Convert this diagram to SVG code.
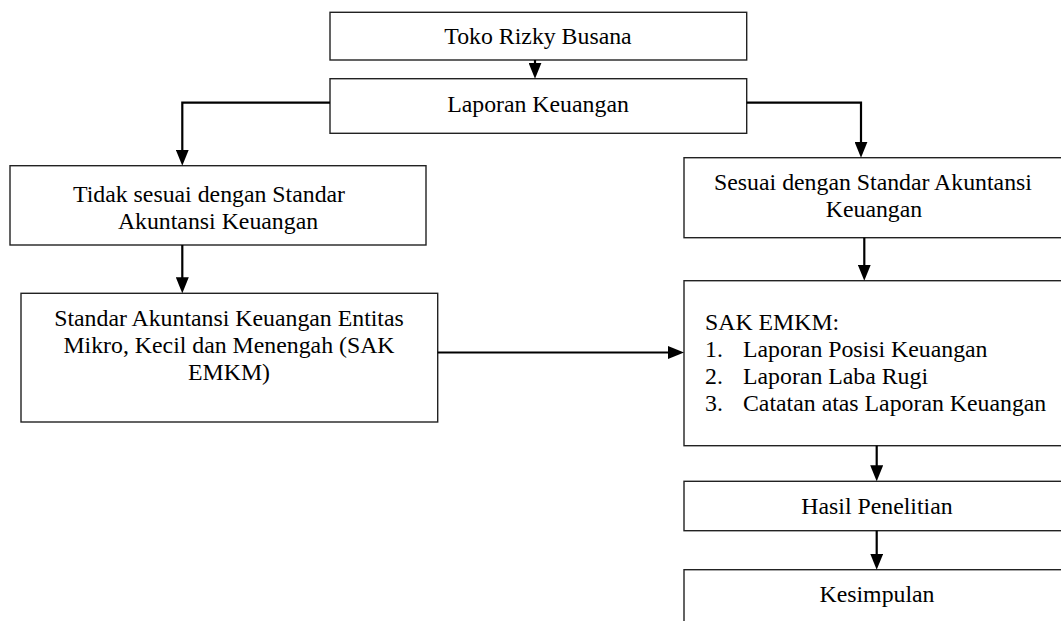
<svg xmlns="http://www.w3.org/2000/svg" width="1061" height="621" viewBox="0 0 1061 621">
<style>
.box{fill:#fff;stroke:#222;stroke-width:1.4}
.t{font-size:23.8px;fill:#000}
.c{text-anchor:middle}
.con{fill:none;stroke:#000;stroke-width:2.2}
</style>
<defs>
<marker id="ah" markerUnits="userSpaceOnUse" markerWidth="16" markerHeight="13" refX="12" refY="6.5" orient="auto">
<path d="M0,0 L16,6.5 L0,13 z" fill="#000"/>
</marker>
</defs>
<rect width="1061" height="621" fill="#fff"/>
<g id="n-toko"><rect class="box" x="330" y="12.3" width="416.7" height="47.7"/><text class="t c" font-family="Liberation Serif, serif" x="538" y="44">Toko Rizky Busana</text></g>
<g id="n-laporan"><rect class="box" x="330" y="78.7" width="416.7" height="54.6"/><text class="t c" font-family="Liberation Serif, serif" x="538" y="112">Laporan Keuangan</text></g>
<g id="n-tidak"><rect class="box" x="10" y="165.7" width="416" height="79.3"/><text class="t c" font-family="Liberation Serif, serif" x="209" y="202">Tidak sesuai dengan Standar</text><text class="t c" font-family="Liberation Serif, serif" x="218" y="229">Akuntansi Keuangan</text></g>
<g id="n-standar"><rect class="box" x="21" y="293.3" width="416.7" height="128.7"/><text class="t c" font-family="Liberation Serif, serif" x="229" y="326">Standar Akuntansi Keuangan Entitas</text><text class="t c" font-family="Liberation Serif, serif" x="229" y="353">Mikro, Kecil dan Menengah (SAK</text><text class="t c" font-family="Liberation Serif, serif" x="229" y="380">EMKM)</text></g>
<g id="n-sesuai"><rect class="box" x="684" y="157.7" width="378" height="80"/><text class="t c" font-family="Liberation Serif, serif" x="873" y="190">Sesuai dengan Standar Akuntansi</text><text class="t c" font-family="Liberation Serif, serif" x="874" y="217">Keuangan</text></g>
<g id="n-sak"><rect class="box" x="684" y="280.7" width="386" height="165"/><text class="t" font-family="Liberation Serif, serif" x="705" y="330">SAK EMKM:</text><text class="t" font-family="Liberation Serif, serif" x="705" y="357">1.</text><text class="t" font-family="Liberation Serif, serif" x="743" y="357">Laporan Posisi Keuangan</text><text class="t" font-family="Liberation Serif, serif" x="705" y="384">2.</text><text class="t" font-family="Liberation Serif, serif" x="743" y="384">Laporan Laba Rugi</text><text class="t" font-family="Liberation Serif, serif" x="705" y="411">3.</text><text class="t" font-family="Liberation Serif, serif" x="743" y="411">Catatan atas Laporan Keuangan</text></g>
<g id="n-hasil"><rect class="box" x="684" y="481.3" width="386" height="49.4"/><text class="t c" font-family="Liberation Serif, serif" x="877" y="514">Hasil Penelitian</text></g>
<g id="n-kesimpulan"><rect class="box" x="684" y="569.7" width="386" height="70"/><text class="t c" font-family="Liberation Serif, serif" x="877" y="602">Kesimpulan</text></g>
<g id="connectors">
<path class="con" d="M535,60 V74.7" marker-end="url(#ah)"/>
<path class="con" d="M330,102.7 H182.3 V161.7" marker-end="url(#ah)"/>
<path class="con" d="M746.7,102.7 H861 V153.7" marker-end="url(#ah)"/>
<path class="con" d="M182.3,245 V289.3" marker-end="url(#ah)"/>
<path class="con" d="M864.3,237.7 V276.7" marker-end="url(#ah)"/>
<path class="con" d="M437.7,352.5 H680" marker-end="url(#ah)"/>
<path class="con" d="M876.7,445.7 V477.3" marker-end="url(#ah)"/>
<path class="con" d="M876.7,530.7 V565.7" marker-end="url(#ah)"/>
</g>
</svg>
